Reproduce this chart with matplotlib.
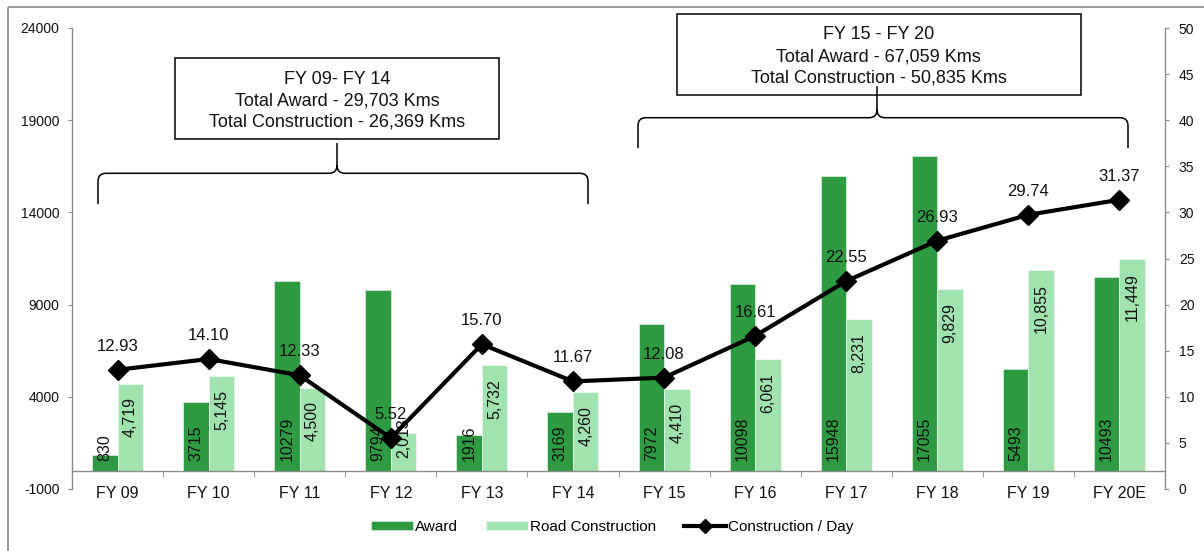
import matplotlib
matplotlib.use("Agg")
import matplotlib.pyplot as plt
from matplotlib.path import Path
from matplotlib.patches import PathPatch, Rectangle
import numpy as np

plt.rcParams["font.family"] = ["Liberation Sans", "DejaVu Sans"]

# ---- data -------------------------------------------------------------
years = ["FY 09", "FY 10", "FY 11", "FY 12", "FY 13", "FY 14",
         "FY 15", "FY 16", "FY 17", "FY 18", "FY 19", "FY 20E"]
award = [830, 3715, 10279, 9794, 1916, 3169, 7972, 10098, 15948, 17055, 5493, 10493]
road = [4719, 5145, 4500, 2013, 5732, 4260, 4410, 6061, 8231, 9829, 10855, 11449]
per_day = [12.93, 14.10, 12.33, 5.52, 15.70, 11.67, 12.08, 16.61, 22.55, 26.93, 29.74, 31.37]
left_ticks = list(range(-1000, 24001, 5000))
right_ticks = list(range(0, 51, 5))
period_a = ("FY 09- FY 14", 0, 6)
period_b = ("FY 15 - FY 20", 6, 12)

# ---- style ------------------------------------------------------------
DARK = "#2E9B42"
LIGHT = "#A0E3AE"
GRAY = "#8C8C8C"
TXT = "#111111"

W, H = 1204, 551
fig = plt.figure(figsize=(W / 100, H / 100), dpi=100)
ax = fig.add_axes([72 / W, 1 - 489 / H, (1165 - 72) / W, (489 - 28) / H])

x = np.arange(len(years))
bw = 0.28
ax.bar(x - bw / 2, award, bw, color=DARK, edgecolor="#DDF0E0", linewidth=0.5,
       label="Award", zorder=2)
ax.bar(x + bw / 2, road, bw, color=LIGHT, edgecolor="#F0FAF2", linewidth=0.5,
       label="Road Construction", zorder=2)

ax.set_xlim(-0.5, len(years) - 0.5)
ax.set_ylim(-1000, 24000)
ax.set_yticks(left_ticks)
ax.set_yticklabels([str(t) for t in left_ticks], fontsize=10, color=TXT)
ax.tick_params(axis="y", length=3, color=GRAY, pad=6)

ax.spines["bottom"].set_position(("data", 0))
for s in ("top", "right"):
    ax.spines[s].set_visible(False)
for s in ("left", "bottom"):
    ax.spines[s].set_color(GRAY)
    ax.spines[s].set_linewidth(1.0)

ax.set_xticks(x)
ax.set_xticklabels(years, fontsize=11.5, color=TXT)
ax.set_xticks(np.arange(len(years) + 1) - 0.5, minor=True)
ax.tick_params(axis="x", which="major", length=0, pad=11)
ax.tick_params(axis="x", which="minor", length=4.3, color=GRAY, direction="out")

# bar value labels
for xi, v in zip(x, award):
    ax.annotate(str(v), (xi - bw / 2, 0), xytext=(0, 7), textcoords="offset points",
                rotation=90, ha="center", va="bottom", fontsize=11.5, color=TXT, zorder=3)
for xi, v in zip(x, road):
    if v < 3000:
        ax.annotate(f"{v:,}", (xi + bw / 2, 0), xytext=(0, 9), textcoords="offset points",
                    rotation=90, ha="center", va="bottom", fontsize=11.5, color=TXT, zorder=3)
    else:
        ax.annotate(f"{v:,}", (xi + bw / 2, v), xytext=(0, -10), textcoords="offset points",
                    rotation=90, ha="center", va="top", fontsize=11.5, color=TXT, zorder=3)

# secondary axis: construction per day
ax2 = ax.twinx()
ax2.set_ylim(0, 50)
ax2.set_yticks(right_ticks)
ax2.set_yticklabels([str(t) for t in right_ticks], fontsize=10, color=TXT)
ax2.tick_params(axis="y", length=3, color=GRAY, pad=7)
for s in ("top", "left", "bottom"):
    ax2.spines[s].set_visible(False)
ax2.spines["right"].set_color(GRAY)
ax2.spines["right"].set_linewidth(1.0)

ax2.plot(x, per_day, color="black", lw=3, marker="D", ms=10,
         label="Construction / Day", zorder=4)
for xi, v in zip(x, per_day):
    ax2.annotate(f"{v:.2f}", (xi, v), xytext=(0, 11.5), textcoords="offset points",
                 ha="center", va="bottom", fontsize=12, color=TXT)

# legend
h1, l1 = ax.get_legend_handles_labels()
h2, l2 = ax2.get_legend_handles_labels()
fig.legend(h1 + h2, l1 + l2, loc="center", bbox_to_anchor=(612 / W, 1 - 527 / H),
           ncol=3, frameon=False, fontsize=11, handlelength=2.75, handleheight=0.52,
           handletextpad=0.15, columnspacing=1.8, markerscale=0.7)

# ---- overlay in pixel coordinates for frame, braces and summary boxes ---
ov = fig.add_axes([0, 0, 1, 1])
ov.set_xlim(0, W)
ov.set_ylim(H, 0)
ov.axis("off")

ov.add_patch(Rectangle((8, 6.5), 3000, 3000, fill=False, ec="#8A8A8A", lw=1.2))


def brace(x0, x1, xm, y_end, y_bar, y_tip, r=8):
    verts = [(x0, y_end), (x0, y_bar + r), (x0, y_bar), (x0 + r, y_bar),
             (xm - r, y_bar), (xm, y_bar), (xm, y_bar - r), (xm, y_tip),
             (xm, y_bar - r), (xm, y_bar), (xm + r, y_bar),
             (x1 - r, y_bar), (x1, y_bar), (x1, y_bar + r), (x1, y_end)]
    codes = [Path.MOVETO, Path.LINETO, Path.CURVE3, Path.CURVE3,
             Path.LINETO, Path.CURVE3, Path.CURVE3, Path.LINETO,
             Path.MOVETO, Path.CURVE3, Path.CURVE3,
             Path.LINETO, Path.CURVE3, Path.CURVE3, Path.LINETO]
    ov.add_patch(PathPatch(Path(verts, codes), fill=False, ec="black", lw=1.1))


def summary(box, cx, baselines, period):
    name, i0, i1 = period
    lines = [name,
             f"Total Award - {sum(award[i0:i1]):,} Kms",
             f"Total Construction - {sum(road[i0:i1]):,} Kms"]
    bx0, by0, bx1, by1 = box
    ov.add_patch(Rectangle((bx0, by0), bx1 - bx0, by1 - by0, fc="white",
                           ec="black", lw=1.1))
    for t, yb in zip(lines, baselines):
        ov.text(cx, yb, t, ha="center", va="baseline", fontsize=13, color=TXT)


brace(98, 588, 337, 204, 173.3, 143)
summary((175, 58.3, 499, 139.3), 337, (84, 105, 126.5), period_a)

brace(638, 1128, 877, 148, 117.7, 87)
summary((676.7, 14.3, 1080.7, 95), 878.7, (39.3, 61, 82.5), period_b)
# the brace tip runs up into the box
ov.plot([877, 877], [95, 87], color="black", lw=1.1)

fig.savefig("out.png", dpi=100)
